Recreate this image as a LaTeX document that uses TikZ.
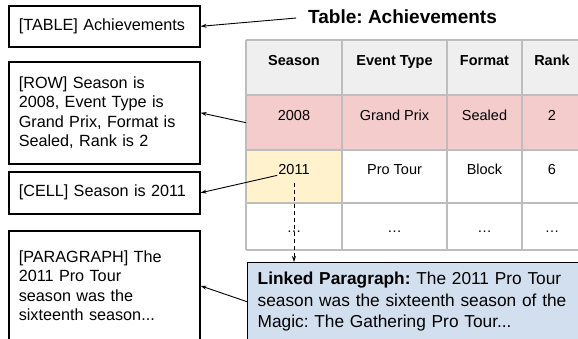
\documentclass[tikz,border=0pt]{standalone}
\usepackage{fontspec}
\setmainfont{Liberation Sans}
\usepackage{xcolor}
\usetikzlibrary{arrows.meta,
	positioning}
\frenchspacing

\definecolor{headgrey}{HTML}{EFEFEF}
\definecolor{rowred}{HTML}{F4CCCC}
\definecolor{cellyellow}{HTML}{FFF2CC}
\definecolor{linkblue}{HTML}{D2DFEF}
\definecolor{gridgrey}{HTML}{BDBDBD}

\tikzset{
    lbox/.style={draw, line width=1.6pt, anchor=north west, text width=171pt,
        inner xsep=10pt, inner ysep=0pt, align=left,
        font=\fontsize{16.2}{19.4}\selectfont},
    cellt/.style={anchor=base, inner sep=1pt, font=\fontsize{14.5}{17}\selectfont},
    headt/.style={cellt, font=\fontsize{14.5}{17}\selectfont\bfseries},
    tabline/.style={draw=gridgrey, line width=1.1pt},
    link/.style={-{Stealth[length=6pt,width=4pt]}, line width=0.9pt},
}

\begin{document}
\begin{tikzpicture}[x=1pt,y=-1pt]
        \useasboundingbox (0,0) rectangle (578,338);
        \clip (0,0) rectangle (578,338);

        %left boxes
        \node[lbox, minimum height=41pt] (tablebox) at (8,5) {[TABLE] Achievements};
        \node[lbox, minimum height=102pt] (rowbox) at (8,61) {[ROW] Season is\\2008, Event Type is\\Grand Prix, Format is\\Sealed, Rank is 2};
        \node[lbox, minimum height=42pt] (cellbox) at (8,171) {[CELL] Season is 2011};
        \node[lbox, minimum height=110pt] (parabox) at (8,230) {[PARAGRAPH] The\\2011 Pro Tour\\season was the\\sixteenth season...};

        %title
        \node[anchor=west, inner sep=0pt, font=\fontsize{19}{22}\selectfont\bfseries] (title) at (308,17) {Table: Achievements};

        %table fills
        \node[fill=headgrey, anchor=north west, inner sep=0pt, minimum width=354pt, minimum height=55pt] (hrow) at (246,40) {};
        \node[fill=rowred, anchor=north west, inner sep=0pt, minimum width=354pt, minimum height=55pt] (r2008) at (246,95) {};
        \fill[cellyellow] (246,150) rectangle (342,203);

        %table grid
        \foreach \y in {40,95,150,203,250}
            \draw[tabline] (246,\y)--(600,\y);
        \foreach \x in {246,342,447,522}
            \draw[tabline] (\x,40)--(\x,250);

        %table text
        \foreach \x/\h/\a/\b [count=\i] in {294/Season/2008/2011, 394.5/Event Type/Grand Prix/Pro Tour,
                484.5/Format/Sealed/Block, 552/Rank/2/6}{
            \node[headt] (hd\i) at (\x,65) {\h};
            \node[cellt] (ra\i) at (\x,120) {\a};
            \node[cellt] (rb\i) at (\x,174) {\b};
            \node[anchor=center, inner sep=1pt, font=\fontsize{14.5}{17}\selectfont] (rc\i) at (\x,232) {…};
        }

        %linked paragraph
        \node[draw, line width=1.4pt, fill=linkblue, anchor=north west, text width=350pt,
            minimum height=78pt, inner xsep=10pt, inner ysep=0pt, align=left,
            font=\fontsize{17.3}{21.7}\selectfont] (linked) at (247,262)
            {\textbf{Linked Paragraph:} The 2011 Pro Tour\\season was the sixteenth season of the\\Magic: The Gathering Pro Tour...};

        %connectors
        \draw[link, shorten <=12pt] (title.west)--(tablebox.east);
        \draw[link] (r2008.west)--(rowbox.east);
        \draw[link] (rb1.south west)--(cellbox.east);
        \draw[link] (linked.west)--(parabox.east);
        \draw[link, dash pattern=on 4pt off 3pt, shorten <=8pt] (rb1.south)--(rb1.south |- linked.north);
\end{tikzpicture}
\end{document}
